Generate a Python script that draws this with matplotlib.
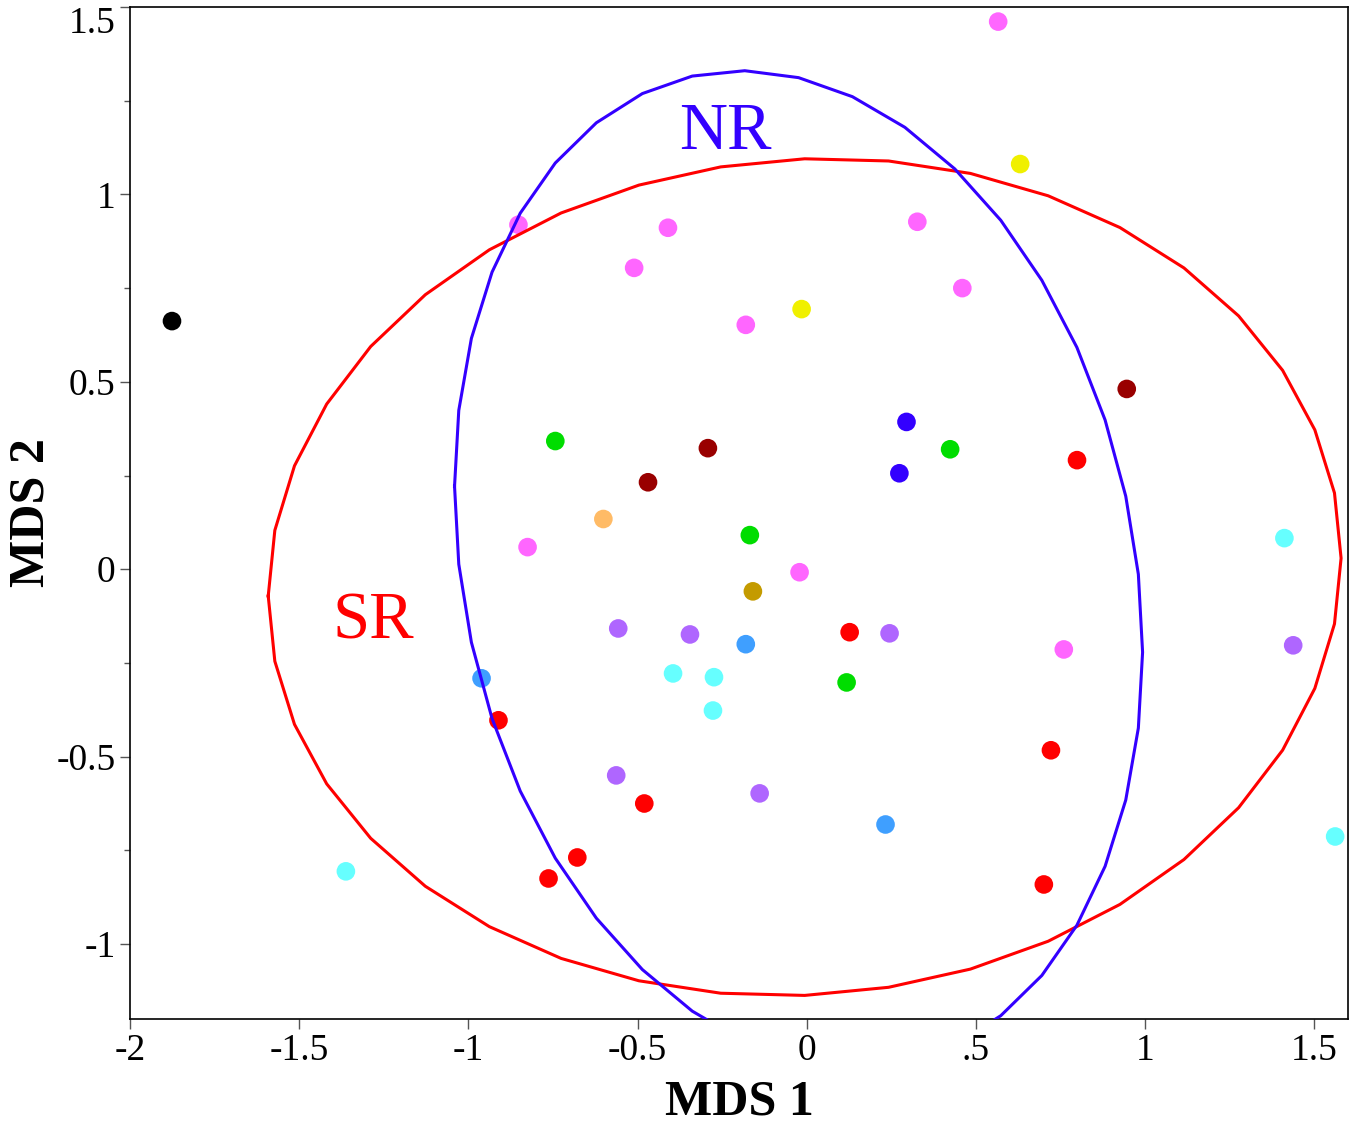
import numpy as np
import matplotlib
matplotlib.use("Agg")
import matplotlib.pyplot as plt

plt.rcParams['font.family'] = ['Liberation Serif', 'DejaVu Serif']

# MDS scores, grouped by colour
groups = {
    "#FF66FF": ([0.566, -0.852, -0.410, -0.510, 0.327, 0.460, -0.180, -0.825, -0.021, 0.760],
                [1.461, 0.919, 0.911, 0.804, 0.927, 0.750, 0.652, 0.059, -0.008, -0.214]),
    "#F0F000": ([0.631, -0.015], [1.081, 0.694]),
    "#000000": ([-1.876], [0.662]),
    "#00DD00": ([-0.743, -0.168, 0.424, 0.118], [0.342, 0.091, 0.320, -0.302]),
    "#990000": ([-0.292, -0.469, 0.946], [0.323, 0.232, 0.481]),
    "#FFBB66": ([-0.601], [0.134]),
    "#C49B00": ([-0.159], [-0.059]),
    "#3300FF": ([0.295, 0.274], [0.393, 0.256]),
    "#FF0000": ([0.799, 0.127, -0.911, -0.480, -0.678, -0.763, 0.722, 0.701],
                [0.291, -0.168, -0.403, -0.625, -0.769, -0.825, -0.483, -0.841]),
    "#AF66FF": ([-0.557, -0.345, 0.245, -0.563, -0.139, 1.438],
                [-0.158, -0.174, -0.171, -0.550, -0.598, -0.203]),
    "#3F9FFF": ([-0.961, -0.180, 0.233], [-0.291, -0.200, -0.681]),
    "#66FFFF": ([-0.395, -0.274, -0.277, 1.412, 1.562, -1.362],
                [-0.278, -0.288, -0.377, 0.083, -0.713, -0.806]),
}

# group ellipses: centre and shape matrix
sr_center = [-0.006, -0.021]
sr_shape = [[2.514, 0.080], [0.080, 1.248]]
nr_center = [-0.024, 0.0]
nr_shape = [[1.034, -0.225], [-0.225, 1.769]]

xticks = [-2, -1.5, -1, -0.5, 0, 0.5, 1, 1.5]
xticklabels = ["-2", "-1.5", "-1", "-0.5", "0", ".5", "1", "1.5"]
yticks = [-1, -0.5, 0, 0.5, 1, 1.5]
yticklabels = ["-1", "-0.5", "0", "0.5", "1", "1.5"]
yminor = [-0.75, -0.25, 0.25, 0.75, 1.25]


def ellipse(center, shape, n=40):
    L = np.linalg.cholesky(np.array(shape))
    t = np.linspace(np.pi, 3 * np.pi, n + 1)
    pts = L @ np.vstack([np.cos(t), np.sin(t)])
    return pts[0] + center[0], pts[1] + center[1]


fig = plt.figure(figsize=(13.56, 11.26), dpi=100)
ax = fig.add_axes([0.0959, 0.095, 0.8982, 0.8988])

for color, (xs, ys) in groups.items():
    ax.scatter(xs, ys, s=180, c=color, edgecolors="none", zorder=2)

ex, ey = ellipse(sr_center, sr_shape)
ax.plot(ex, ey, color="#FF0000", lw=2.2, zorder=3)
ex, ey = ellipse(nr_center, nr_shape)
ax.plot(ex, ey, color="#3300FF", lw=2.2, zorder=3)

ax.text(-0.24, 1.165, "NR", color="#3300FF", fontsize=48, ha="center", va="center")
ax.text(-1.28, -0.14, "SR", color="#FF0000", fontsize=48, ha="center", va="center")

ax.set_xticks(xticks)
ax.set_xticklabels(xticklabels)
ax.set_yticks(yticks)
ax.set_yticklabels(yticklabels)
ax.set_yticks(yminor, minor=True)
ax.set_xlim(-2, 1.6)
ax.set_ylim(-1.2, 1.5)
ax.tick_params(axis="both", which="major", labelsize=27, length=7, width=1, color="#555555")
ax.tick_params(axis="y", which="minor", length=4, width=1, color="#555555")
ax.get_yticklabels()[-1].set_va("top")
for sp in ax.spines.values():
    sp.set_linewidth(1.2)

ax.set_xlabel("MDS 1", fontsize=36, fontweight="bold")
ax.set_ylabel("MDS 2", fontsize=36, fontweight="bold")
ax.xaxis.label.set_va("center")
ax.yaxis.label.set_va("center")
ax.xaxis.set_label_coords(0.5, -0.082)
ax.yaxis.set_label_coords(-0.081, 0.5)

fig.savefig("out.png", dpi=100)
